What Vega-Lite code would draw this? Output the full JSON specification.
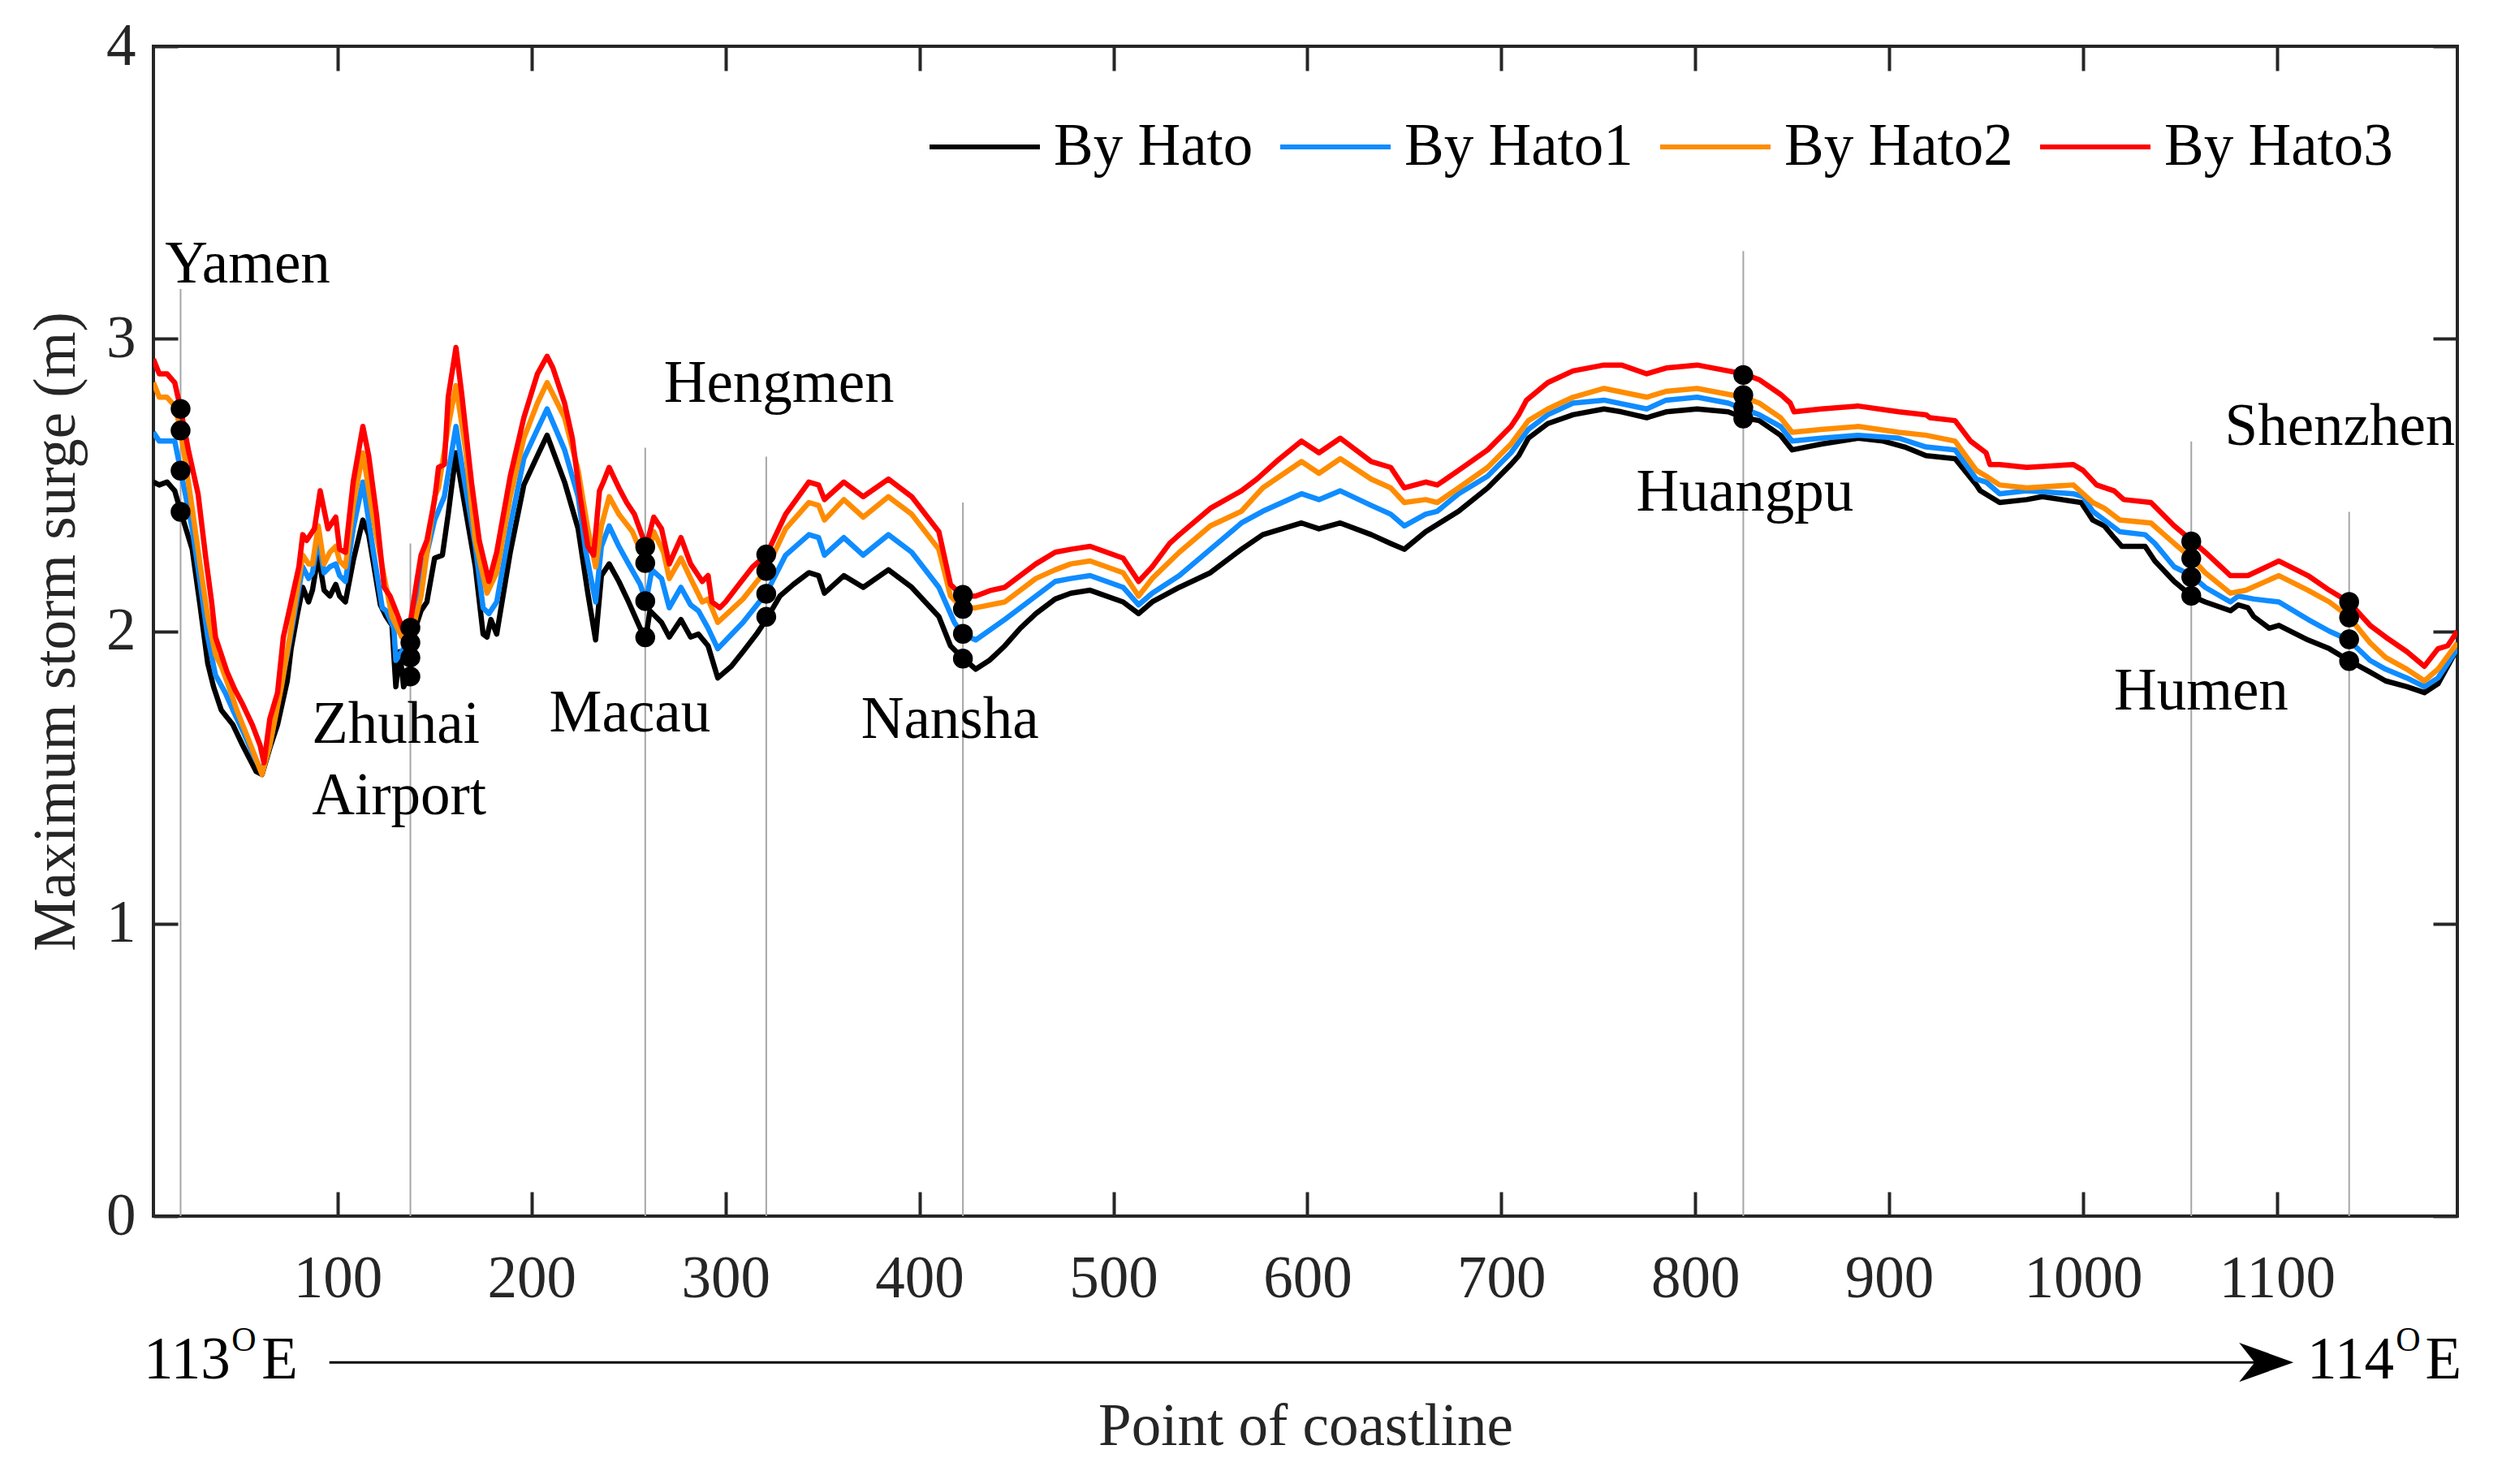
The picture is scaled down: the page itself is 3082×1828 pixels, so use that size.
{
"$schema":"https://vega.github.io/schema/vega-lite/v6.json",
"width":2838,"height":1441,
"autosize":{"type":"none"},
"padding":{"left":189,"top":57,"right":55,"bottom":330},
"background":"white",
"datasets":{
"lines":[
{"s":"By Hato","x":5,"y":2.51},{"s":"By Hato","x":8,"y":2.50},{"s":"By Hato","x":12,"y":2.51},{"s":"By Hato","x":16,"y":2.48},{"s":"By Hato","x":19,"y":2.41},{"s":"By Hato","x":25,"y":2.28},{"s":"By Hato","x":29,"y":2.09},{"s":"By Hato","x":33,"y":1.89},{"s":"By Hato","x":36,"y":1.81},{"s":"By Hato","x":40,"y":1.73},{"s":"By Hato","x":46,"y":1.68},{"s":"By Hato","x":51,"y":1.61},{"s":"By Hato","x":58,"y":1.52},{"s":"By Hato","x":61,"y":1.51},{"s":"By Hato","x":65,"y":1.60},{"s":"By Hato","x":69,"y":1.68},{"s":"By Hato","x":74,"y":1.83},{"s":"By Hato","x":76,"y":1.94},{"s":"By Hato","x":79,"y":2.05},{"s":"By Hato","x":82,"y":2.15},{"s":"By Hato","x":85,"y":2.10},{"s":"By Hato","x":87,"y":2.14},{"s":"By Hato","x":90,"y":2.26},{"s":"By Hato","x":93,"y":2.14},{"s":"By Hato","x":96,"y":2.12},{"s":"By Hato","x":99,"y":2.16},{"s":"By Hato","x":101,"y":2.12},{"s":"By Hato","x":104,"y":2.10},{"s":"By Hato","x":108,"y":2.24},{"s":"By Hato","x":113,"y":2.38},{"s":"By Hato","x":116,"y":2.33},{"s":"By Hato","x":122,"y":2.09},{"s":"By Hato","x":125,"y":2.05},{"s":"By Hato","x":128,"y":2.02},{"s":"By Hato","x":130,"y":1.81},{"s":"By Hato","x":132,"y":1.93},{"s":"By Hato","x":134,"y":1.81},{"s":"By Hato","x":137,"y":1.85},{"s":"By Hato","x":140,"y":2.01},{"s":"By Hato","x":143,"y":2.07},{"s":"By Hato","x":146,"y":2.10},{"s":"By Hato","x":150,"y":2.25},{"s":"By Hato","x":154,"y":2.26},{"s":"By Hato","x":157,"y":2.40},{"s":"By Hato","x":161,"y":2.61},{"s":"By Hato","x":164,"y":2.49},{"s":"By Hato","x":171,"y":2.22},{"s":"By Hato","x":175,"y":1.99},{"s":"By Hato","x":177,"y":1.98},{"s":"By Hato","x":179,"y":2.04},{"s":"By Hato","x":182,"y":1.99},{"s":"By Hato","x":189,"y":2.27},{"s":"By Hato","x":196,"y":2.50},{"s":"By Hato","x":203,"y":2.60},{"s":"By Hato","x":208,"y":2.67},{"s":"By Hato","x":217,"y":2.51},{"s":"By Hato","x":224,"y":2.35},{"s":"By Hato","x":229,"y":2.13},{"s":"By Hato","x":233,"y":1.97},{"s":"By Hato","x":236,"y":2.19},{"s":"By Hato","x":240,"y":2.23},{"s":"By Hato","x":245,"y":2.17},{"s":"By Hato","x":250,"y":2.10},{"s":"By Hato","x":256,"y":2.01},{"s":"By Hato","x":259,"y":1.98},{"s":"By Hato","x":261,"y":2.07},{"s":"By Hato","x":267,"y":2.03},{"s":"By Hato","x":271,"y":1.98},{"s":"By Hato","x":277,"y":2.04},{"s":"By Hato","x":282,"y":1.98},{"s":"By Hato","x":286,"y":1.99},{"s":"By Hato","x":291,"y":1.95},{"s":"By Hato","x":296,"y":1.84},{"s":"By Hato","x":303,"y":1.88},{"s":"By Hato","x":309,"y":1.93},{"s":"By Hato","x":316,"y":1.99},{"s":"By Hato","x":321,"y":2.04},{"s":"By Hato","x":328,"y":2.12},{"s":"By Hato","x":335,"y":2.16},{"s":"By Hato","x":343,"y":2.20},{"s":"By Hato","x":348,"y":2.19},{"s":"By Hato","x":351,"y":2.13},{"s":"By Hato","x":361,"y":2.19},{"s":"By Hato","x":371,"y":2.15},{"s":"By Hato","x":384,"y":2.21},{"s":"By Hato","x":396,"y":2.15},{"s":"By Hato","x":410,"y":2.05},{"s":"By Hato","x":416,"y":1.95},{"s":"By Hato","x":422,"y":1.91},{"s":"By Hato","x":429,"y":1.87},{"s":"By Hato","x":436,"y":1.90},{"s":"By Hato","x":444,"y":1.95},{"s":"By Hato","x":452,"y":2.01},{"s":"By Hato","x":460,"y":2.06},{"s":"By Hato","x":470,"y":2.11},{"s":"By Hato","x":478,"y":2.13},{"s":"By Hato","x":488,"y":2.14},{"s":"By Hato","x":505,"y":2.10},{"s":"By Hato","x":513,"y":2.06},{"s":"By Hato","x":520,"y":2.10},{"s":"By Hato","x":534,"y":2.15},{"s":"By Hato","x":550,"y":2.20},{"s":"By Hato","x":566,"y":2.28},{"s":"By Hato","x":577,"y":2.33},{"s":"By Hato","x":597,"y":2.37},{"s":"By Hato","x":606,"y":2.35},{"s":"By Hato","x":617,"y":2.37},{"s":"By Hato","x":633,"y":2.33},{"s":"By Hato","x":643,"y":2.30},{"s":"By Hato","x":650,"y":2.28},{"s":"By Hato","x":661,"y":2.34},{"s":"By Hato","x":678,"y":2.41},{"s":"By Hato","x":693,"y":2.49},{"s":"By Hato","x":705,"y":2.57},{"s":"By Hato","x":709,"y":2.60},{"s":"By Hato","x":714,"y":2.66},{"s":"By Hato","x":724,"y":2.71},{"s":"By Hato","x":737,"y":2.74},{"s":"By Hato","x":753,"y":2.76},{"s":"By Hato","x":762,"y":2.75},{"s":"By Hato","x":775,"y":2.73},{"s":"By Hato","x":785,"y":2.75},{"s":"By Hato","x":801,"y":2.76},{"s":"By Hato","x":817,"y":2.75},{"s":"By Hato","x":825,"y":2.73},{"s":"By Hato","x":833,"y":2.72},{"s":"By Hato","x":844,"y":2.67},{"s":"By Hato","x":850,"y":2.62},{"s":"By Hato","x":865,"y":2.64},{"s":"By Hato","x":884,"y":2.66},{"s":"By Hato","x":897,"y":2.65},{"s":"By Hato","x":908,"y":2.63},{"s":"By Hato","x":919,"y":2.60},{"s":"By Hato","x":934,"y":2.59},{"s":"By Hato","x":945,"y":2.50},{"s":"By Hato","x":947,"y":2.48},{"s":"By Hato","x":957,"y":2.44},{"s":"By Hato","x":971,"y":2.45},{"s":"By Hato","x":979,"y":2.46},{"s":"By Hato","x":999,"y":2.44},{"s":"By Hato","x":1002,"y":2.41},{"s":"By Hato","x":1005,"y":2.38},{"s":"By Hato","x":1011,"y":2.36},{"s":"By Hato","x":1016,"y":2.32},{"s":"By Hato","x":1020,"y":2.29},{"s":"By Hato","x":1032,"y":2.29},{"s":"By Hato","x":1037,"y":2.24},{"s":"By Hato","x":1047,"y":2.17},{"s":"By Hato","x":1056,"y":2.12},{"s":"By Hato","x":1063,"y":2.10},{"s":"By Hato","x":1076,"y":2.07},{"s":"By Hato","x":1080,"y":2.09},{"s":"By Hato","x":1085,"y":2.08},{"s":"By Hato","x":1088,"y":2.05},{"s":"By Hato","x":1096,"y":2.01},{"s":"By Hato","x":1101,"y":2.02},{"s":"By Hato","x":1116,"y":1.97},{"s":"By Hato","x":1127,"y":1.94},{"s":"By Hato","x":1137,"y":1.90},{"s":"By Hato","x":1148,"y":1.86},{"s":"By Hato","x":1156,"y":1.83},{"s":"By Hato","x":1167,"y":1.81},{"s":"By Hato","x":1176,"y":1.79},{"s":"By Hato","x":1183,"y":1.82},{"s":"By Hato","x":1193,"y":1.94},
{"s":"By Hato1","x":5,"y":2.68},{"s":"By Hato1","x":8,"y":2.65},{"s":"By Hato1","x":12,"y":2.65},{"s":"By Hato1","x":16,"y":2.65},{"s":"By Hato1","x":19,"y":2.55},{"s":"By Hato1","x":25,"y":2.35},{"s":"By Hato1","x":29,"y":2.17},{"s":"By Hato1","x":33,"y":1.98},{"s":"By Hato1","x":37,"y":1.85},{"s":"By Hato1","x":42,"y":1.79},{"s":"By Hato1","x":46,"y":1.73},{"s":"By Hato1","x":51,"y":1.66},{"s":"By Hato1","x":57,"y":1.57},{"s":"By Hato1","x":61,"y":1.52},{"s":"By Hato1","x":65,"y":1.61},{"s":"By Hato1","x":69,"y":1.75},{"s":"By Hato1","x":74,"y":1.92},{"s":"By Hato1","x":78,"y":2.07},{"s":"By Hato1","x":82,"y":2.22},{"s":"By Hato1","x":85,"y":2.18},{"s":"By Hato1","x":87,"y":2.20},{"s":"By Hato1","x":90,"y":2.32},{"s":"By Hato1","x":93,"y":2.20},{"s":"By Hato1","x":96,"y":2.22},{"s":"By Hato1","x":99,"y":2.23},{"s":"By Hato1","x":101,"y":2.19},{"s":"By Hato1","x":104,"y":2.17},{"s":"By Hato1","x":108,"y":2.35},{"s":"By Hato1","x":113,"y":2.51},{"s":"By Hato1","x":118,"y":2.29},{"s":"By Hato1","x":123,"y":2.08},{"s":"By Hato1","x":125,"y":2.07},{"s":"By Hato1","x":129,"y":2.01},{"s":"By Hato1","x":130,"y":1.90},{"s":"By Hato1","x":134,"y":1.94},{"s":"By Hato1","x":137,"y":1.91},{"s":"By Hato1","x":143,"y":2.18},{"s":"By Hato1","x":150,"y":2.38},{"s":"By Hato1","x":155,"y":2.46},{"s":"By Hato1","x":161,"y":2.70},{"s":"By Hato1","x":164,"y":2.57},{"s":"By Hato1","x":171,"y":2.29},{"s":"By Hato1","x":175,"y":2.08},{"s":"By Hato1","x":178,"y":2.06},{"s":"By Hato1","x":182,"y":2.10},{"s":"By Hato1","x":189,"y":2.36},{"s":"By Hato1","x":196,"y":2.59},{"s":"By Hato1","x":203,"y":2.69},{"s":"By Hato1","x":208,"y":2.76},{"s":"By Hato1","x":217,"y":2.62},{"s":"By Hato1","x":224,"y":2.46},{"s":"By Hato1","x":228,"y":2.27},{"s":"By Hato1","x":233,"y":2.10},{"s":"By Hato1","x":236,"y":2.29},{"s":"By Hato1","x":240,"y":2.36},{"s":"By Hato1","x":245,"y":2.29},{"s":"By Hato1","x":250,"y":2.23},{"s":"By Hato1","x":256,"y":2.16},{"s":"By Hato1","x":259,"y":2.10},{"s":"By Hato1","x":262,"y":2.21},{"s":"By Hato1","x":267,"y":2.18},{"s":"By Hato1","x":271,"y":2.08},{"s":"By Hato1","x":277,"y":2.15},{"s":"By Hato1","x":282,"y":2.09},{"s":"By Hato1","x":286,"y":2.07},{"s":"By Hato1","x":291,"y":2.01},{"s":"By Hato1","x":296,"y":1.94},{"s":"By Hato1","x":309,"y":2.03},{"s":"By Hato1","x":321,"y":2.13},{"s":"By Hato1","x":331,"y":2.26},{"s":"By Hato1","x":343,"y":2.33},{"s":"By Hato1","x":348,"y":2.32},{"s":"By Hato1","x":351,"y":2.26},{"s":"By Hato1","x":361,"y":2.32},{"s":"By Hato1","x":371,"y":2.26},{"s":"By Hato1","x":384,"y":2.33},{"s":"By Hato1","x":396,"y":2.27},{"s":"By Hato1","x":410,"y":2.15},{"s":"By Hato1","x":418,"y":2.03},{"s":"By Hato1","x":422,"y":1.99},{"s":"By Hato1","x":429,"y":1.97},{"s":"By Hato1","x":444,"y":2.04},{"s":"By Hato1","x":460,"y":2.12},{"s":"By Hato1","x":470,"y":2.17},{"s":"By Hato1","x":478,"y":2.18},{"s":"By Hato1","x":488,"y":2.19},{"s":"By Hato1","x":505,"y":2.15},{"s":"By Hato1","x":513,"y":2.09},{"s":"By Hato1","x":520,"y":2.13},{"s":"By Hato1","x":534,"y":2.19},{"s":"By Hato1","x":550,"y":2.28},{"s":"By Hato1","x":566,"y":2.37},{"s":"By Hato1","x":577,"y":2.41},{"s":"By Hato1","x":597,"y":2.47},{"s":"By Hato1","x":606,"y":2.45},{"s":"By Hato1","x":617,"y":2.48},{"s":"By Hato1","x":633,"y":2.43},{"s":"By Hato1","x":643,"y":2.40},{"s":"By Hato1","x":650,"y":2.36},{"s":"By Hato1","x":661,"y":2.40},{"s":"By Hato1","x":667,"y":2.41},{"s":"By Hato1","x":678,"y":2.47},{"s":"By Hato1","x":693,"y":2.53},{"s":"By Hato1","x":705,"y":2.61},{"s":"By Hato1","x":714,"y":2.69},{"s":"By Hato1","x":724,"y":2.74},{"s":"By Hato1","x":737,"y":2.78},{"s":"By Hato1","x":753,"y":2.79},{"s":"By Hato1","x":775,"y":2.76},{"s":"By Hato1","x":785,"y":2.79},{"s":"By Hato1","x":801,"y":2.80},{"s":"By Hato1","x":817,"y":2.78},{"s":"By Hato1","x":825,"y":2.76},{"s":"By Hato1","x":833,"y":2.74},{"s":"By Hato1","x":844,"y":2.70},{"s":"By Hato1","x":850,"y":2.65},{"s":"By Hato1","x":865,"y":2.66},{"s":"By Hato1","x":884,"y":2.67},{"s":"By Hato1","x":905,"y":2.66},{"s":"By Hato1","x":919,"y":2.63},{"s":"By Hato1","x":934,"y":2.62},{"s":"By Hato1","x":945,"y":2.52},{"s":"By Hato1","x":950,"y":2.51},{"s":"By Hato1","x":957,"y":2.47},{"s":"By Hato1","x":971,"y":2.48},{"s":"By Hato1","x":995,"y":2.47},{"s":"By Hato1","x":1000,"y":2.46},{"s":"By Hato1","x":1005,"y":2.41},{"s":"By Hato1","x":1011,"y":2.38},{"s":"By Hato1","x":1019,"y":2.34},{"s":"By Hato1","x":1032,"y":2.33},{"s":"By Hato1","x":1037,"y":2.30},{"s":"By Hato1","x":1047,"y":2.22},{"s":"By Hato1","x":1056,"y":2.19},{"s":"By Hato1","x":1063,"y":2.15},{"s":"By Hato1","x":1076,"y":2.10},{"s":"By Hato1","x":1080,"y":2.12},{"s":"By Hato1","x":1088,"y":2.11},{"s":"By Hato1","x":1101,"y":2.10},{"s":"By Hato1","x":1116,"y":2.04},{"s":"By Hato1","x":1127,"y":2.00},{"s":"By Hato1","x":1137,"y":1.97},{"s":"By Hato1","x":1148,"y":1.90},{"s":"By Hato1","x":1156,"y":1.87},{"s":"By Hato1","x":1167,"y":1.84},{"s":"By Hato1","x":1176,"y":1.81},{"s":"By Hato1","x":1183,"y":1.84},{"s":"By Hato1","x":1193,"y":1.94},
{"s":"By Hato2","x":5,"y":2.85},{"s":"By Hato2","x":8,"y":2.80},{"s":"By Hato2","x":12,"y":2.80},{"s":"By Hato2","x":16,"y":2.77},{"s":"By Hato2","x":19,"y":2.69},{"s":"By Hato2","x":25,"y":2.42},{"s":"By Hato2","x":29,"y":2.23},{"s":"By Hato2","x":33,"y":2.05},{"s":"By Hato2","x":37,"y":1.92},{"s":"By Hato2","x":40,"y":1.88},{"s":"By Hato2","x":45,"y":1.79},{"s":"By Hato2","x":48,"y":1.73},{"s":"By Hato2","x":54,"y":1.63},{"s":"By Hato2","x":61,"y":1.51},{"s":"By Hato2","x":65,"y":1.61},{"s":"By Hato2","x":71,"y":1.81},{"s":"By Hato2","x":76,"y":2.01},{"s":"By Hato2","x":82,"y":2.26},{"s":"By Hato2","x":85,"y":2.23},{"s":"By Hato2","x":87,"y":2.23},{"s":"By Hato2","x":90,"y":2.36},{"s":"By Hato2","x":93,"y":2.23},{"s":"By Hato2","x":96,"y":2.27},{"s":"By Hato2","x":99,"y":2.29},{"s":"By Hato2","x":101,"y":2.24},{"s":"By Hato2","x":104,"y":2.22},{"s":"By Hato2","x":108,"y":2.43},{"s":"By Hato2","x":113,"y":2.61},{"s":"By Hato2","x":118,"y":2.40},{"s":"By Hato2","x":123,"y":2.22},{"s":"By Hato2","x":128,"y":2.05},{"s":"By Hato2","x":133,"y":1.98},{"s":"By Hato2","x":137,"y":1.96},{"s":"By Hato2","x":143,"y":2.12},{"s":"By Hato2","x":150,"y":2.46},{"s":"By Hato2","x":152,"y":2.49},{"s":"By Hato2","x":157,"y":2.70},{"s":"By Hato2","x":161,"y":2.84},{"s":"By Hato2","x":166,"y":2.62},{"s":"By Hato2","x":171,"y":2.31},{"s":"By Hato2","x":177,"y":2.13},{"s":"By Hato2","x":182,"y":2.20},{"s":"By Hato2","x":189,"y":2.46},{"s":"By Hato2","x":196,"y":2.66},{"s":"By Hato2","x":203,"y":2.78},{"s":"By Hato2","x":208,"y":2.85},{"s":"By Hato2","x":217,"y":2.73},{"s":"By Hato2","x":224,"y":2.55},{"s":"By Hato2","x":229,"y":2.35},{"s":"By Hato2","x":233,"y":2.22},{"s":"By Hato2","x":236,"y":2.36},{"s":"By Hato2","x":240,"y":2.46},{"s":"By Hato2","x":245,"y":2.40},{"s":"By Hato2","x":252,"y":2.34},{"s":"By Hato2","x":259,"y":2.23},{"s":"By Hato2","x":263,"y":2.34},{"s":"By Hato2","x":268,"y":2.27},{"s":"By Hato2","x":271,"y":2.18},{"s":"By Hato2","x":277,"y":2.25},{"s":"By Hato2","x":282,"y":2.18},{"s":"By Hato2","x":288,"y":2.10},{"s":"By Hato2","x":291,"y":2.11},{"s":"By Hato2","x":296,"y":2.03},{"s":"By Hato2","x":309,"y":2.11},{"s":"By Hato2","x":321,"y":2.21},{"s":"By Hato2","x":331,"y":2.35},{"s":"By Hato2","x":343,"y":2.44},{"s":"By Hato2","x":348,"y":2.43},{"s":"By Hato2","x":351,"y":2.38},{"s":"By Hato2","x":361,"y":2.45},{"s":"By Hato2","x":371,"y":2.39},{"s":"By Hato2","x":384,"y":2.46},{"s":"By Hato2","x":396,"y":2.40},{"s":"By Hato2","x":410,"y":2.28},{"s":"By Hato2","x":416,"y":2.12},{"s":"By Hato2","x":422,"y":2.08},{"s":"By Hato2","x":429,"y":2.08},{"s":"By Hato2","x":444,"y":2.10},{"s":"By Hato2","x":460,"y":2.18},{"s":"By Hato2","x":470,"y":2.21},{"s":"By Hato2","x":478,"y":2.23},{"s":"By Hato2","x":488,"y":2.24},{"s":"By Hato2","x":505,"y":2.20},{"s":"By Hato2","x":513,"y":2.12},{"s":"By Hato2","x":520,"y":2.18},{"s":"By Hato2","x":534,"y":2.27},{"s":"By Hato2","x":550,"y":2.36},{"s":"By Hato2","x":566,"y":2.41},{"s":"By Hato2","x":577,"y":2.49},{"s":"By Hato2","x":597,"y":2.58},{"s":"By Hato2","x":606,"y":2.54},{"s":"By Hato2","x":617,"y":2.59},{"s":"By Hato2","x":633,"y":2.52},{"s":"By Hato2","x":643,"y":2.49},{"s":"By Hato2","x":650,"y":2.44},{"s":"By Hato2","x":661,"y":2.45},{"s":"By Hato2","x":667,"y":2.44},{"s":"By Hato2","x":678,"y":2.49},{"s":"By Hato2","x":693,"y":2.56},{"s":"By Hato2","x":705,"y":2.64},{"s":"By Hato2","x":714,"y":2.72},{"s":"By Hato2","x":724,"y":2.76},{"s":"By Hato2","x":737,"y":2.80},{"s":"By Hato2","x":753,"y":2.83},{"s":"By Hato2","x":775,"y":2.80},{"s":"By Hato2","x":785,"y":2.82},{"s":"By Hato2","x":801,"y":2.83},{"s":"By Hato2","x":817,"y":2.81},{"s":"By Hato2","x":825,"y":2.80},{"s":"By Hato2","x":833,"y":2.78},{"s":"By Hato2","x":844,"y":2.73},{"s":"By Hato2","x":850,"y":2.68},{"s":"By Hato2","x":865,"y":2.69},{"s":"By Hato2","x":884,"y":2.70},{"s":"By Hato2","x":905,"y":2.68},{"s":"By Hato2","x":919,"y":2.67},{"s":"By Hato2","x":934,"y":2.65},{"s":"By Hato2","x":945,"y":2.55},{"s":"By Hato2","x":950,"y":2.53},{"s":"By Hato2","x":957,"y":2.50},{"s":"By Hato2","x":971,"y":2.49},{"s":"By Hato2","x":995,"y":2.50},{"s":"By Hato2","x":1000,"y":2.47},{"s":"By Hato2","x":1005,"y":2.44},{"s":"By Hato2","x":1011,"y":2.42},{"s":"By Hato2","x":1019,"y":2.38},{"s":"By Hato2","x":1035,"y":2.37},{"s":"By Hato2","x":1047,"y":2.30},{"s":"By Hato2","x":1056,"y":2.25},{"s":"By Hato2","x":1063,"y":2.20},{"s":"By Hato2","x":1076,"y":2.13},{"s":"By Hato2","x":1084,"y":2.14},{"s":"By Hato2","x":1101,"y":2.19},{"s":"By Hato2","x":1116,"y":2.14},{"s":"By Hato2","x":1127,"y":2.10},{"s":"By Hato2","x":1137,"y":2.05},{"s":"By Hato2","x":1148,"y":1.96},{"s":"By Hato2","x":1156,"y":1.91},{"s":"By Hato2","x":1167,"y":1.87},{"s":"By Hato2","x":1176,"y":1.83},{"s":"By Hato2","x":1183,"y":1.87},{"s":"By Hato2","x":1193,"y":1.96},
{"s":"By Hato3","x":5,"y":2.93},{"s":"By Hato3","x":8,"y":2.88},{"s":"By Hato3","x":12,"y":2.88},{"s":"By Hato3","x":16,"y":2.85},{"s":"By Hato3","x":19,"y":2.76},{"s":"By Hato3","x":23,"y":2.62},{"s":"By Hato3","x":28,"y":2.47},{"s":"By Hato3","x":32,"y":2.25},{"s":"By Hato3","x":35,"y":2.10},{"s":"By Hato3","x":37,"y":1.98},{"s":"By Hato3","x":40,"y":1.92},{"s":"By Hato3","x":43,"y":1.86},{"s":"By Hato3","x":47,"y":1.80},{"s":"By Hato3","x":51,"y":1.75},{"s":"By Hato3","x":56,"y":1.68},{"s":"By Hato3","x":60,"y":1.61},{"s":"By Hato3","x":62,"y":1.55},{"s":"By Hato3","x":65,"y":1.70},{"s":"By Hato3","x":69,"y":1.79},{"s":"By Hato3","x":72,"y":1.98},{"s":"By Hato3","x":76,"y":2.10},{"s":"By Hato3","x":80,"y":2.22},{"s":"By Hato3","x":82,"y":2.33},{"s":"By Hato3","x":84,"y":2.31},{"s":"By Hato3","x":88,"y":2.35},{"s":"By Hato3","x":91,"y":2.48},{"s":"By Hato3","x":95,"y":2.35},{"s":"By Hato3","x":99,"y":2.39},{"s":"By Hato3","x":101,"y":2.28},{"s":"By Hato3","x":104,"y":2.27},{"s":"By Hato3","x":108,"y":2.51},{"s":"By Hato3","x":113,"y":2.70},{"s":"By Hato3","x":116,"y":2.60},{"s":"By Hato3","x":120,"y":2.40},{"s":"By Hato3","x":124,"y":2.15},{"s":"By Hato3","x":127,"y":2.12},{"s":"By Hato3","x":130,"y":2.07},{"s":"By Hato3","x":134,"y":2.00},{"s":"By Hato3","x":137,"y":2.01},{"s":"By Hato3","x":141,"y":2.18},{"s":"By Hato3","x":143,"y":2.26},{"s":"By Hato3","x":146,"y":2.31},{"s":"By Hato3","x":150,"y":2.45},{"s":"By Hato3","x":152,"y":2.56},{"s":"By Hato3","x":155,"y":2.57},{"s":"By Hato3","x":157,"y":2.80},{"s":"By Hato3","x":161,"y":2.97},{"s":"By Hato3","x":164,"y":2.81},{"s":"By Hato3","x":169,"y":2.51},{"s":"By Hato3","x":173,"y":2.31},{"s":"By Hato3","x":178,"y":2.17},{"s":"By Hato3","x":182,"y":2.27},{"s":"By Hato3","x":189,"y":2.53},{"s":"By Hato3","x":196,"y":2.73},{"s":"By Hato3","x":203,"y":2.88},{"s":"By Hato3","x":208,"y":2.94},{"s":"By Hato3","x":211,"y":2.90},{"s":"By Hato3","x":217,"y":2.78},{"s":"By Hato3","x":221,"y":2.66},{"s":"By Hato3","x":225,"y":2.46},{"s":"By Hato3","x":229,"y":2.29},{"s":"By Hato3","x":232,"y":2.26},{"s":"By Hato3","x":235,"y":2.48},{"s":"By Hato3","x":237,"y":2.51},{"s":"By Hato3","x":240,"y":2.56},{"s":"By Hato3","x":245,"y":2.49},{"s":"By Hato3","x":249,"y":2.44},{"s":"By Hato3","x":253,"y":2.40},{"s":"By Hato3","x":259,"y":2.29},{"s":"By Hato3","x":263,"y":2.39},{"s":"By Hato3","x":267,"y":2.35},{"s":"By Hato3","x":271,"y":2.23},{"s":"By Hato3","x":277,"y":2.32},{"s":"By Hato3","x":282,"y":2.23},{"s":"By Hato3","x":288,"y":2.17},{"s":"By Hato3","x":291,"y":2.19},{"s":"By Hato3","x":293,"y":2.10},{"s":"By Hato3","x":297,"y":2.08},{"s":"By Hato3","x":300,"y":2.10},{"s":"By Hato3","x":307,"y":2.16},{"s":"By Hato3","x":314,"y":2.22},{"s":"By Hato3","x":321,"y":2.26},{"s":"By Hato3","x":331,"y":2.40},{"s":"By Hato3","x":343,"y":2.51},{"s":"By Hato3","x":348,"y":2.50},{"s":"By Hato3","x":351,"y":2.45},{"s":"By Hato3","x":361,"y":2.51},{"s":"By Hato3","x":371,"y":2.46},{"s":"By Hato3","x":384,"y":2.52},{"s":"By Hato3","x":396,"y":2.46},{"s":"By Hato3","x":410,"y":2.34},{"s":"By Hato3","x":416,"y":2.16},{"s":"By Hato3","x":422,"y":2.12},{"s":"By Hato3","x":429,"y":2.12},{"s":"By Hato3","x":437,"y":2.14},{"s":"By Hato3","x":444,"y":2.15},{"s":"By Hato3","x":460,"y":2.23},{"s":"By Hato3","x":470,"y":2.27},{"s":"By Hato3","x":478,"y":2.28},{"s":"By Hato3","x":488,"y":2.29},{"s":"By Hato3","x":505,"y":2.25},{"s":"By Hato3","x":513,"y":2.17},{"s":"By Hato3","x":520,"y":2.22},{"s":"By Hato3","x":529,"y":2.30},{"s":"By Hato3","x":534,"y":2.33},{"s":"By Hato3","x":550,"y":2.42},{"s":"By Hato3","x":566,"y":2.48},{"s":"By Hato3","x":574,"y":2.52},{"s":"By Hato3","x":584,"y":2.58},{"s":"By Hato3","x":597,"y":2.65},{"s":"By Hato3","x":606,"y":2.61},{"s":"By Hato3","x":617,"y":2.66},{"s":"By Hato3","x":633,"y":2.58},{"s":"By Hato3","x":643,"y":2.56},{"s":"By Hato3","x":650,"y":2.49},{"s":"By Hato3","x":661,"y":2.51},{"s":"By Hato3","x":667,"y":2.50},{"s":"By Hato3","x":678,"y":2.55},{"s":"By Hato3","x":693,"y":2.62},{"s":"By Hato3","x":705,"y":2.70},{"s":"By Hato3","x":709,"y":2.74},{"s":"By Hato3","x":713,"y":2.79},{"s":"By Hato3","x":724,"y":2.85},{"s":"By Hato3","x":737,"y":2.89},{"s":"By Hato3","x":753,"y":2.91},{"s":"By Hato3","x":762,"y":2.91},{"s":"By Hato3","x":775,"y":2.88},{"s":"By Hato3","x":785,"y":2.90},{"s":"By Hato3","x":801,"y":2.91},{"s":"By Hato3","x":817,"y":2.89},{"s":"By Hato3","x":825,"y":2.88},{"s":"By Hato3","x":833,"y":2.86},{"s":"By Hato3","x":844,"y":2.81},{"s":"By Hato3","x":849,"y":2.78},{"s":"By Hato3","x":851,"y":2.75},{"s":"By Hato3","x":865,"y":2.76},{"s":"By Hato3","x":884,"y":2.77},{"s":"By Hato3","x":905,"y":2.75},{"s":"By Hato3","x":919,"y":2.74},{"s":"By Hato3","x":921,"y":2.73},{"s":"By Hato3","x":934,"y":2.72},{"s":"By Hato3","x":942,"y":2.65},{"s":"By Hato3","x":950,"y":2.61},{"s":"By Hato3","x":952,"y":2.57},{"s":"By Hato3","x":957,"y":2.57},{"s":"By Hato3","x":971,"y":2.56},{"s":"By Hato3","x":995,"y":2.57},{"s":"By Hato3","x":1000,"y":2.55},{"s":"By Hato3","x":1007,"y":2.50},{"s":"By Hato3","x":1016,"y":2.48},{"s":"By Hato3","x":1021,"y":2.45},{"s":"By Hato3","x":1035,"y":2.44},{"s":"By Hato3","x":1047,"y":2.36},{"s":"By Hato3","x":1056,"y":2.31},{"s":"By Hato3","x":1063,"y":2.27},{"s":"By Hato3","x":1076,"y":2.19},{"s":"By Hato3","x":1085,"y":2.19},{"s":"By Hato3","x":1101,"y":2.24},{"s":"By Hato3","x":1116,"y":2.19},{"s":"By Hato3","x":1127,"y":2.14},{"s":"By Hato3","x":1137,"y":2.10},{"s":"By Hato3","x":1148,"y":2.02},{"s":"By Hato3","x":1156,"y":1.98},{"s":"By Hato3","x":1167,"y":1.93},{"s":"By Hato3","x":1176,"y":1.88},{"s":"By Hato3","x":1183,"y":1.94},{"s":"By Hato3","x":1188,"y":1.95},{"s":"By Hato3","x":1193,"y":2.00}
],
"stations":[
{"st":"Yamen","x":19,"top":3.17},{"st":"Zhuhai Airport","x":137.5,"top":2.30},{"st":"Macau","x":258.6,"top":2.627},{"st":"Hengmen","x":321,"top":2.597},{"st":"Nansha","x":422.4,"top":2.44},{"st":"Huangpu","x":824.8,"top":3.30},{"st":"Humen","x":1055.8,"top":2.649},{"st":"Shenzhen","x":1137.2,"top":2.408}
],
"dots":[
{"st":"Yamen","x":19,"y":2.76},{"st":"Yamen","x":19,"y":2.686},{"st":"Yamen","x":19,"y":2.549},{"st":"Yamen","x":19,"y":2.408},
{"st":"Zhuhai Airport","x":137.5,"y":2.012},{"st":"Zhuhai Airport","x":137.5,"y":1.961},{"st":"Zhuhai Airport","x":137.5,"y":1.91},{"st":"Zhuhai Airport","x":137.5,"y":1.845},
{"st":"Macau","x":258.6,"y":2.288},{"st":"Macau","x":258.6,"y":2.233},{"st":"Macau","x":258.6,"y":2.103},{"st":"Macau","x":258.6,"y":1.979},
{"st":"Hengmen","x":321,"y":2.262},{"st":"Hengmen","x":321,"y":2.206},{"st":"Hengmen","x":321,"y":2.128},{"st":"Hengmen","x":321,"y":2.049},
{"st":"Nansha","x":422.4,"y":2.124},{"st":"Nansha","x":422.4,"y":2.076},{"st":"Nansha","x":422.4,"y":1.991},{"st":"Nansha","x":422.4,"y":1.906},
{"st":"Huangpu","x":824.8,"y":2.876},{"st":"Huangpu","x":824.8,"y":2.807},{"st":"Huangpu","x":824.8,"y":2.764},{"st":"Huangpu","x":824.8,"y":2.727},
{"st":"Humen","x":1055.8,"y":2.307},{"st":"Humen","x":1055.8,"y":2.249},{"st":"Humen","x":1055.8,"y":2.185},{"st":"Humen","x":1055.8,"y":2.121},
{"st":"Shenzhen","x":1137.2,"y":2.10},{"st":"Shenzhen","x":1137.2,"y":2.047},{"st":"Shenzhen","x":1137.2,"y":1.972},{"st":"Shenzhen","x":1137.2,"y":1.898}
],
"labels":[
{"t":"Yamen","x":11,"y":3.193},{"t":"Zhuhai","x":86.7,"y":1.619},{"t":"Airport","x":86.7,"y":1.374},{"t":"Macau","x":209.1,"y":1.657},{"t":"Hengmen","x":268.2,"y":2.783},{"t":"Nansha","x":369.9,"y":1.635},{"t":"Huangpu","x":769.6,"y":2.413},{"t":"Humen","x":1015.9,"y":1.733},{"t":"Shenzhen","x":1073.1,"y":2.636},
{"t":"113","x":0,"y":-0.555},{"t":"E","x":60.8,"y":-0.555},{"t":"114","x":1115.6,"y":-0.555},{"t":"E","x":1176.5,"y":-0.555}
],
"sups":[{"t":"O","x":45.3,"y":-0.461},{"t":"O","x":1161.3,"y":-0.461}],
"arrow":[{"x":95.7,"x2":1090,"y":-0.5}],
"head":[{"x":1094.5,"y":-0.5}]
},
"resolve":{"axis":{"x":"independent","y":"independent"}},
"layer":[
{"data":{"name":"stations"},
 "mark":{"type":"rule","color":"#a6a6a6","strokeWidth":2},
 "encoding":{
  "x":{"field":"x","type":"quantitative","scale":{"domain":[5,1193],"nice":false,"zero":false},"axis":{"orient":"top","labels":false,"title":null,"values":[100,200,300,400,500,600,700,800,900,1000,1100]}},
  "y":{"field":"top","type":"quantitative","scale":{"domain":[0,4],"nice":false},"axis":{"orient":"right","labels":false,"title":null,"values":[0,1,2,3,4]}},
  "y2":{"datum":0}}},
{"data":{"name":"lines"},
 "mark":{"type":"line","strokeWidth":6.5,"strokeJoin":"round","clip":true},
 "encoding":{
  "x":{"field":"x","type":"quantitative","scale":{"domain":[5,1193],"nice":false,"zero":false},"axis":{"orient":"bottom","title":"Point of coastline","format":"d","values":[100,200,300,400,500,600,700,800,900,1000,1100],"labelPadding":71,"titlePadding":109}},
  "y":{"field":"y","type":"quantitative","scale":{"domain":[0,4],"nice":false},"axis":{"orient":"left","title":"Maximum storm surge (m)","values":[0,1,2,3,4],"labelPadding":52,"titlePadding":24}},
  "color":{"field":"s","type":"nominal","scale":{"domain":["By Hato","By Hato1","By Hato2","By Hato3"],"range":["#000000","#0F8CFF","#FF8C00","#FF0000"]},
   "legend":{"title":null,"orient":"none","legendX":953,"legendY":53,"direction":"horizontal","symbolType":"stroke","symbolSize":18496,"symbolStrokeWidth":6,"labelFont":"Liberation Serif","labelFontSize":73,"labelColor":"#000000","labelLimit":0,"labelOffset":14,"columnPadding":21,"padding":0}},
  "detail":{"field":"s"},
  "order":{"field":"x","type":"quantitative"}}},
{"data":{"name":"dots"},
 "mark":{"type":"point","filled":true,"size":600,"color":"#000000","opacity":1},
 "encoding":{
  "x":{"field":"x","type":"quantitative","scale":{"domain":[5,1193],"nice":false,"zero":false},"axis":null},
  "y":{"field":"y","type":"quantitative","scale":{"domain":[0,4],"nice":false},"axis":null}}},
{"data":{"name":"labels"},
 "mark":{"type":"text","font":"Liberation Serif","fontSize":73,"align":"left","baseline":"alphabetic","color":"#000000"},
 "encoding":{
  "x":{"field":"x","type":"quantitative","scale":{"domain":[5,1193],"nice":false,"zero":false},"axis":null},
  "y":{"field":"y","type":"quantitative","scale":{"domain":[0,4],"nice":false},"axis":null},
  "text":{"field":"t"}}},
{"data":{"name":"sups"},
 "mark":{"type":"text","font":"Liberation Serif","fontSize":42,"align":"left","baseline":"alphabetic","color":"#000000"},
 "encoding":{
  "x":{"field":"x","type":"quantitative","scale":{"domain":[5,1193],"nice":false,"zero":false},"axis":null},
  "y":{"field":"y","type":"quantitative","scale":{"domain":[0,4],"nice":false},"axis":null},
  "text":{"field":"t"}}},
{"data":{"name":"arrow"},
 "mark":{"type":"rule","color":"#000000","strokeWidth":3},
 "encoding":{
  "x":{"field":"x","type":"quantitative","scale":{"domain":[5,1193],"nice":false,"zero":false},"axis":null},
  "x2":{"field":"x2"},
  "y":{"field":"y","type":"quantitative","scale":{"domain":[0,4],"nice":false},"axis":null}}},
{"data":{"name":"head"},
 "mark":{"type":"point","filled":true,"size":4489,"color":"#000000","opacity":1,"shape":"M1,0L-1,-0.72L-0.43,0L-1,0.72Z"},
 "encoding":{
  "x":{"field":"x","type":"quantitative","scale":{"domain":[5,1193],"nice":false,"zero":false},"axis":null},
  "y":{"field":"y","type":"quantitative","scale":{"domain":[0,4],"nice":false},"axis":null}}}
],
"config":{
 "font":"Liberation Serif",
 "view":{"stroke":"#262626","strokeWidth":4},
 "axis":{"labelFont":"Liberation Serif","labelFontSize":73,"labelColor":"#262626","titleFont":"Liberation Serif","titleFontSize":73,"titleFontWeight":"normal","titleColor":"#262626","tickColor":"#262626","tickWidth":4,"tickSize":-30,"domain":false,"grid":false,"labelFlush":false,"labelOverlap":false}
}
}
